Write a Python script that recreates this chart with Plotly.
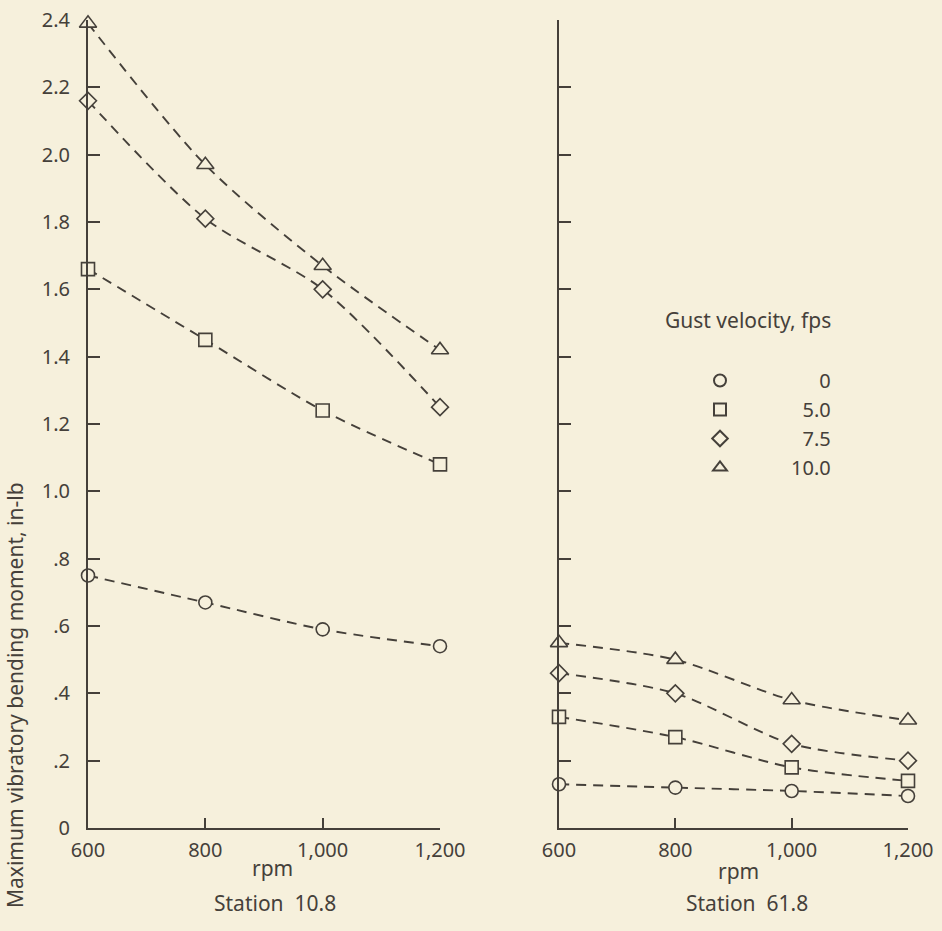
import plotly.graph_objects as go

# rpm values shared by both stations
rpm = [600, 800, 1000, 1200]

# Maximum vibratory bending moment, in-lb — Station 10.8
st10_gust0 = [0.75, 0.67, 0.59, 0.54]
st10_gust5 = [1.66, 1.45, 1.24, 1.08]
st10_gust75 = [2.16, 1.81, 1.60, 1.25]
st10_gust10 = [2.39, 1.97, 1.67, 1.42]

# Station 61.8
st61_gust0 = [0.13, 0.12, 0.11, 0.095]
st61_gust5 = [0.33, 0.27, 0.18, 0.14]
st61_gust75 = [0.46, 0.40, 0.25, 0.20]
st61_gust10 = [0.55, 0.50, 0.38, 0.32]

gust_labels = ["0", "5.0", "7.5", "10.0"]
symbols = ["circle", "square", "diamond", "triangle-up"]

y_tickvals = [0, 0.2, 0.4, 0.6, 0.8, 1.0, 1.2, 1.4, 1.6, 1.8, 2.0, 2.2, 2.4]
y_ticktext = ["0", ".2", ".4", ".6", ".8", "1.0", "1.2", "1.4", "1.6", "1.8", "2.0", "2.2", "2.4"]
x_tickvals = [600, 800, 1000, 1200]
x_ticktext = ["600", "800", "1,000", "1,200"]

BG = "#f6f0dc"
INK = "#45403a"
FONT = "Noto Sans"

W, H = 942, 931

station10 = [st10_gust0, st10_gust5, st10_gust75, st10_gust10]
station61 = [st61_gust0, st61_gust5, st61_gust75, st61_gust10]

fig = go.Figure()


def add_series(values, sym, xa, ya):
    size = 15 if sym == "triangle-up" else 13
    fig.add_trace(go.Scatter(
        x=rpm, y=values, xaxis=xa, yaxis=ya,
        mode="lines+markers",
        line=dict(color=INK, width=1.9, dash="10px,7px", shape="spline", smoothing=0.8),
        marker=dict(symbol=sym, size=size, color=BG, line=dict(color=INK, width=1.6)),
        showlegend=False, cliponaxis=False, hoverinfo="x+y",
    ))


for vals, sym in zip(station10, symbols):
    add_series(vals, sym, "x", "y")
for vals, sym in zip(station61, symbols):
    add_series(vals, sym, "x2", "y2")


def right_aligned(label):
    # pad with figure/punctuation spaces so the numbers line up on the right
    pad = ""
    for ch in "10.0"[: len("10.0") - len(label)]:
        pad += "\u2008" if ch == "." else "\u2007"
    return "\u2007" * 4 + "\u2008" + pad + label


# marker-only legend entries
for lab, sym in zip(gust_labels, symbols):
    fig.add_trace(go.Scatter(
        x=[None], y=[None], mode="markers", name=right_aligned(lab),
        marker=dict(symbol=sym, size=12, color=BG, line=dict(color=INK, width=1.6)),
        showlegend=True,
    ))

left_dom = [88 / W, 440 / W]
right_dom = [559 / W, 908 / W]
y_dom = [1 - 828 / H, 1 - 20 / H]

axis_common = dict(
    showline=True, linecolor=INK, linewidth=2, showgrid=False, zeroline=False,
    ticks="inside", tickcolor=INK, tickwidth=2, automargin=False,
    tickfont=dict(family=FONT, size=20, color=INK),
)

fig.update_layout(
    width=W, height=H,
    paper_bgcolor=BG, plot_bgcolor=BG,
    margin=dict(l=0, r=0, t=0, b=0, autoexpand=False),
    font=dict(family=FONT, color=INK),
    xaxis=dict(domain=left_dom, range=[600, 1200], tickvals=x_tickvals, ticktext=x_ticktext,
               ticklen=10, anchor="y", ticklabelstandoff=3, **axis_common),
    yaxis=dict(domain=y_dom, range=[0, 2.4], tickvals=y_tickvals, ticktext=y_ticktext,
               ticklen=12, anchor="x", ticklabelstandoff=12, **axis_common),
    xaxis2=dict(domain=right_dom, range=[600, 1200], tickvals=x_tickvals, ticktext=x_ticktext,
                ticklen=10, anchor="y2", ticklabelstandoff=3, **axis_common),
    yaxis2=dict(domain=y_dom, range=[0, 2.4], tickvals=y_tickvals, showticklabels=False,
                ticklen=12, anchor="x2", **axis_common),
    legend=dict(
        x=700 / W, y=1 - 361 / H, xanchor="left", yanchor="top",
        bgcolor="rgba(0,0,0,0)", borderwidth=0,
        font=dict(family=FONT, size=20, color=INK),
        tracegroupgap=0, itemsizing="constant",
    ),
    showlegend=True,
)

annot_font = dict(family=FONT, size=21, color=INK)


def label(text, px, py, **kw):
    fig.add_annotation(text=text, x=px / W, y=1 - py / H, xref="paper", yref="paper",
                       xanchor="center", yanchor="middle", showarrow=False,
                       font=kw.pop("font", annot_font), **kw)


label("Gust velocity, fps", 748, 320, font=dict(family=FONT, size=21, color=INK))
label("rpm", 272, 868)
label("Station  10.8", 275, 903)
label("rpm", 738, 871)
label("Station  61.8", 747, 903)
label("Maximum vibratory bending moment, in-lb", 15, 695, textangle=-90,
      font=dict(family=FONT, size=21, color=INK))

fig.write_html("out.html")
